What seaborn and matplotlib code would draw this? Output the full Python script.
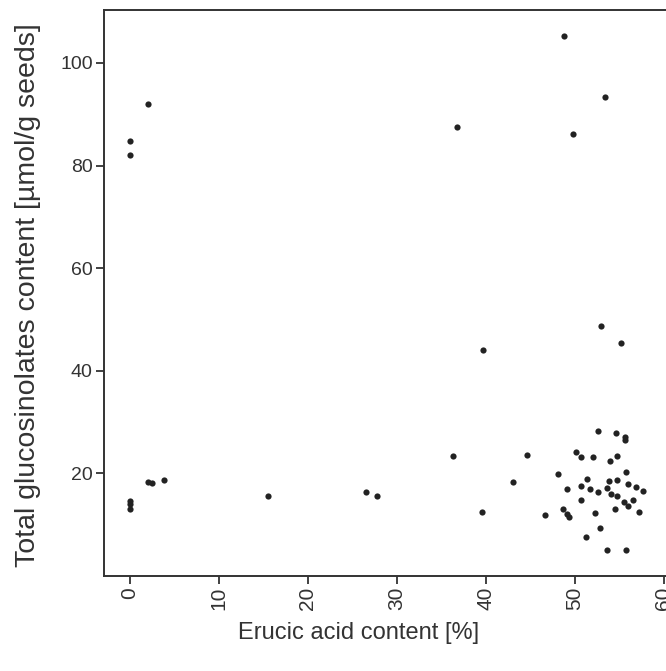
import matplotlib
matplotlib.use("Agg")
import matplotlib.pyplot as plt
import seaborn as sns
import pandas as pd

erucic = [0, 0, 2.1, 0, 0, 0, 2.1, 2.5, 3.9, 15.5, 26.5, 27.8, 36.3, 36.8, 39.6,
          39.7, 43.1, 44.6, 46.7, 48.1, 48.8, 49.8, 53.4, 53.0, 55.2,
          52.6, 54.6, 55.6, 55.7, 50.1, 50.7, 52.0, 54.0, 54.8, 55.8, 51.4,
          49.1, 50.7, 51.7, 52.6, 53.6, 53.9, 54.8, 54.1, 54.8, 56.0, 56.9,
          57.7, 50.7, 55.5, 56.0, 56.5, 54.5, 48.7, 49.1, 49.4, 52.3, 57.2,
          52.8, 51.3, 53.6, 55.8]
glucos = [84.8, 82.0, 92.0, 14.6, 14.1, 13.0, 18.4, 18.2, 18.8, 15.5, 16.4, 15.5, 23.3, 87.5, 12.4,
          44.1, 18.3, 23.6, 11.9, 19.9, 105.3, 86.2, 93.4, 48.7, 45.4,
          28.3, 27.9, 27.1, 26.5, 24.2, 23.1, 23.1, 22.5, 23.3, 20.2, 19.0,
          17.0, 17.5, 17.0, 16.3, 17.2, 18.6, 18.7, 16.0, 15.5, 17.9, 17.3,
          16.6, 14.9, 14.5, 13.7, 14.9, 13.1, 13.0, 12.1, 11.5, 12.3, 12.4,
          9.3, 7.6, 5.0, 5.1]
xticks = [0, 10, 20, 30, 40, 50, 60]
yticks = [20, 40, 60, 80, 100]

df = pd.DataFrame({"x": erucic, "y": glucos})

sns.set_style("ticks")
plt.rcParams['font.family'] = ['Liberation Sans', 'DejaVu Sans']

fig = plt.figure(figsize=(6.66, 6.71), dpi=100)
ax = fig.add_axes([0.156, 0.1416, 0.874, 0.8434])
sns.scatterplot(data=df, x="x", y="y", ax=ax, color="#222222", s=20,
                linewidth=0, marker="o", legend=False)
ax.set_xlim(-2.9, 62.5)
ax.set_ylim(0.0, 110.3)
ax.set_xticks(xticks)
ax.set_xticklabels([str(t) for t in xticks], rotation=90, fontsize=15, color="#333333")
ax.set_yticks(yticks)
ax.set_yticklabels([str(t) for t in yticks], fontsize=14, color="#333333")
ax.tick_params(direction="out", length=6, width=1.3, color="#333333", pad=2)
for sp in ax.spines.values():
    sp.set_linewidth(1.4)
    sp.set_color("#333333")
ax.set_xlabel("Erucic acid content [%]", fontsize=17, color="#333333")
ax.set_ylabel("Total glucosinolates content [µmol/g seeds]", fontsize=20.5, color="#333333")
ax.xaxis.set_label_coords(0.438, -0.1007)
ax.xaxis.label.set_va("center")
ax.yaxis.set_label_coords(-0.1306, 0.4965)
ax.yaxis.label.set_va("center")
fig.savefig("out.png", dpi=100)
